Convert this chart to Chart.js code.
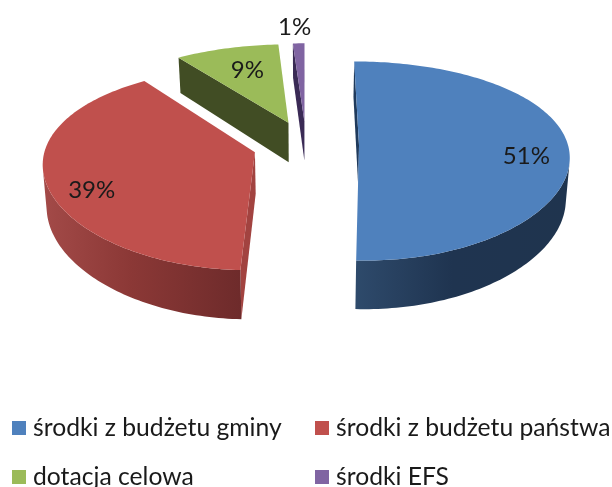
<!DOCTYPE html>
<html><head><meta charset="utf-8">
<style>html,body{margin:0;padding:0;background:#fff}#w{width:612px;height:487px}</style>
<script src="https://cdn.jsdelivr.net/npm/chart.js@4/dist/chart.umd.js"></script>
</head><body><div id="w"><canvas id="c"></canvas></div>
<script>
const categories = ['środki z budżetu gminy','środki z budżetu państwa','dotacja celowa','środki EFS'];
const values = [50.6, 39.4, 9, 1];
const colors = ['#4F81BD','#C0504D','#9BBB59','#8064A2'];
const faceColors = ['#1F3A5C','#A24340','#414D24','#3A2A55'];
const rimStops = [['#2E4A6B','#1F3450','#1F344E'],['#A34A48','#8B3836','#6E2B2B'],['#414D24','#414D24','#414D24'],['#3A2A55','#3A2A55','#3A2A55']];
const labelFractions = [0.78, 0.8, 0.66, 1.22];
const labelNudges = [[4,9],[3,14],[1,-1],[-3,-2]];

const VIEW = {cx:306, cy:145, rx:209, ry:97, px:0.1, p:0.156, depth:41, shrink:0.985};
function project(u, v){
  return [VIEW.cx + VIEW.rx*u/(1 - VIEW.px*v), VIEW.cy + VIEW.ry*v/(1 - VIEW.p*v)];
}
function drop(pt, v){
  return [VIEW.cx + (pt[0]-VIEW.cx)*VIEW.shrink, pt[1] + VIEW.depth/(1 - VIEW.p*v)];
}
function area(ps){let a=0;for(let i=0;i<ps.length;i++){const q=ps[(i+1)%ps.length];a+=ps[i][0]*q[1]-q[0]*ps[i][1];}return a;}
function poly(ctx,ps,col){ctx.beginPath();ps.forEach((q,i)=>i?ctx.lineTo(q[0],q[1]):ctx.moveTo(q[0],q[1]));ctx.closePath();ctx.fillStyle=col;ctx.fill();}

class Arc3D extends Chart.ArcElement {
  static id = 'arc3d';
  draw(ctx){
    const {startAngle:a0,endAngle:a1} = this.getProps(['startAngle','endAngle']);
    const i = this.$context.dataIndex, mid=(a0+a1)/2;
    const d = (this.options.offset||0)/VIEW.rx;
    const ox = d*Math.cos(mid), oy = d*Math.sin(mid);
    const n = Math.max(2,Math.ceil((a1-a0)/0.02));
    const rim=[];
    for(let k=0;k<=n;k++){
      const a=a0+(a1-a0)*k/n, u=ox+Math.cos(a), v=oy+Math.sin(a);
      const t=project(u,v); rim.push({a,t,b:drop(t,v)});
    }
    const at=project(ox,oy), ab=drop(at,oy);
    const sf=[at,rim[0].t,rim[0].b,ab], ef=[at,rim[n].t,rim[n].b,ab];
    if(area(sf)<0) poly(ctx,sf,faceColors[i]);
    if(area(ef)>0) poly(ctx,ef,faceColors[i]);
    const vis=[];
    for(let k=0;k<n;k++){
      if(area([rim[k].t,rim[k+1].t,rim[k+1].b,rim[k].b])<0){
        if(!vis.length) vis.push(rim[k]);
        vis.push(rim[k+1]);
      }
    }
    if(vis.length>1){
      const xs=vis.map(r=>r.t[0]), x0=Math.min(...xs), x1=Math.max(...xs);
      const g=ctx.createLinearGradient(x0,0,x1,0);
      g.addColorStop(0,rimStops[i][0]);
      g.addColorStop(0.45,rimStops[i][1]);
      g.addColorStop(1,rimStops[i][2]);
      poly(ctx,[...vis.map(r=>r.t),...vis.slice().reverse().map(r=>r.b)],g);
    }
    poly(ctx,[at,...rim.map(r=>r.t)],this.options.backgroundColor);
  }
}
class Pie3D extends Chart.PieController {
  static id = 'pie3d';
  static defaults = {dataElementType:'arc3d'};
}
Chart.register(Arc3D, Pie3D);

const overlay = {
  id:'overlay',
  afterDatasetsDraw(chart){
    const ctx=chart.ctx, arcs=chart.getDatasetMeta(0).data;
    ctx.save();
    ctx.fillStyle='#1a1a1a'; ctx.textAlign='center'; ctx.textBaseline='middle';
    ctx.font='24px Lato';
    arcs.forEach((el,i)=>{
      const mid=(el.startAngle+el.endAngle)/2, d=el.options.offset/VIEW.rx, f=labelFractions[i];
      const p=project((d+f)*Math.cos(mid),(d+f)*Math.sin(mid));
      ctx.fillText(Math.round(values[i])+'%',p[0]+labelNudges[i][0],p[1]+labelNudges[i][1]);
    });
    ctx.font='24.7px Lato'; ctx.textAlign='left';
    const col=[12,315], row=[428,477];
    categories.forEach((c,i)=>{
      const x=col[i%2], y=row[i>>1];
      ctx.fillStyle=colors[i]; ctx.fillRect(x,y-7,14,14);
      ctx.fillStyle='#1a1a1a'; ctx.fillText(c,x+21,y);
    });
    ctx.restore();
  }
};

new Chart(document.getElementById('c'),{
  type:'pie3d',
  data:{labels:categories,datasets:[{data:values,backgroundColor:colors,borderWidth:0,offset:53}]},
  options:{responsive:true,maintainAspectRatio:false,animation:false,
    plugins:{legend:{display:false},tooltip:{enabled:false}}},
  plugins:[overlay]
});
</script></body></html>
